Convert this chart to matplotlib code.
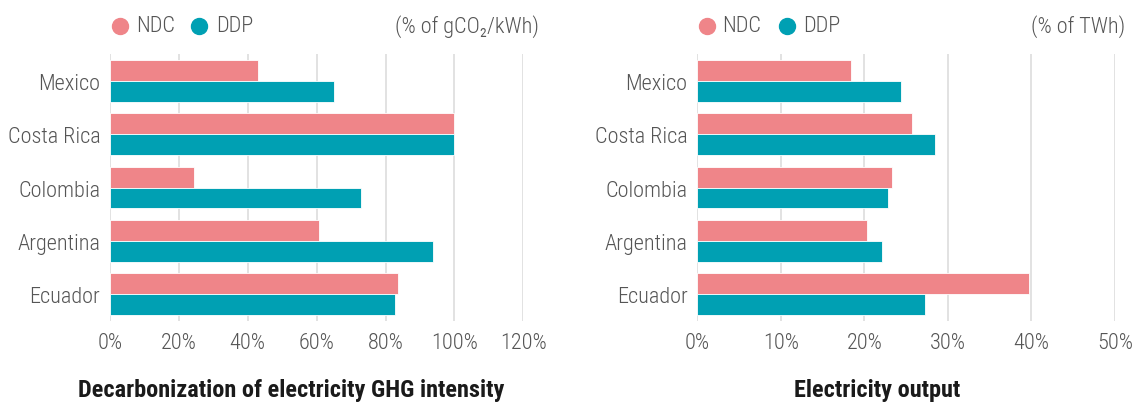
import matplotlib
matplotlib.use('Agg')
import matplotlib.pyplot as plt
import numpy as np

countries = ['Mexico', 'Costa Rica', 'Colombia', 'Argentina', 'Ecuador']

# Decarbonization of electricity GHG intensity (% of gCO2/kWh)
ghg_ndc = [43.0, 100.0, 24.4, 60.6, 83.6]
ghg_ddp = [65.1, 100.0, 72.8, 93.8, 82.9]

# Electricity output (% of TWh)
elec_ndc = [18.4, 25.7, 23.3, 20.3, 39.7]
elec_ddp = [24.4, 28.5, 22.8, 22.1, 27.2]

NDC_COLOR = '#EF8589'
DDP_COLOR = '#00A0B3'
TEXT_GREY = '#555555'
GRID_GREY = '#DADADA'

plt.rcParams['font.family'] = ['Roboto Condensed', 'DejaVu Sans']

fig = plt.figure(figsize=(11.41, 4.06), dpi=100)

panels = [
    dict(rect=[0.0964, 0.2069, 0.3622, 0.6576], ndc=ghg_ndc, ddp=ghg_ddp,
         xmax=120, step=20, unit='(% of gCO\u2082/kWh)', unit_x=1.038,
         leg=(0.024, 0.063, 0.215, 0.256),
         title='Decarbonization of electricity GHG intensity', title_x=291 / 1141),
    dict(rect=[0.6111, 0.2069, 0.3661, 0.6576], ndc=elec_ndc, ddp=elec_ddp,
         xmax=50, step=10, unit='(% of TWh)', unit_x=1.024,
         leg=(0.024, 0.059, 0.214, 0.253),
         title='Electricity output', title_x=877 / 1141),
]

y = np.arange(len(countries))
h = 0.39

for p in panels:
    ax = fig.add_axes(p['rect'])
    ax.barh(y - h / 2, p['ndc'], height=h, color=NDC_COLOR, edgecolor='white', linewidth=0.6, zorder=3)
    ax.barh(y + h / 2, p['ddp'], height=h, color=DDP_COLOR, edgecolor='white', linewidth=0.6, zorder=3)

    ax.set_xlim(0, p['xmax'])
    ax.set_ylim(len(countries) - 0.5, -0.5)
    ticks = np.arange(0, p['xmax'] + 1, p['step'])
    ax.set_xticks(ticks)
    ax.set_xticklabels([f'{t}%' for t in ticks])
    ax.set_yticks(y)
    ax.set_yticklabels(countries)
    ax.tick_params(length=0, labelsize=16, colors=TEXT_GREY)
    for lab in ax.get_xticklabels() + ax.get_yticklabels():
        lab.set_fontweight('light')
    ax.tick_params(axis='x', pad=8)
    ax.tick_params(axis='y', pad=7)
    ax.grid(axis='x', color=GRID_GREY, linewidth=1.1, zorder=0)
    for s in ax.spines.values():
        s.set_visible(False)

    # legend drawn by hand above the plot
    ly = 1.105
    c1, t1, c2, t2 = p['leg']
    for cx, tx, col, name in [(c1, t1, NDC_COLOR, 'NDC'), (c2, t2, DDP_COLOR, 'DDP')]:
        ax.plot([cx], [ly], marker='o', markersize=11.5, color=col, linestyle='',
                transform=ax.transAxes, clip_on=False)
        ax.text(tx, ly, name, transform=ax.transAxes, ha='left', va='center',
                fontsize=16, fontweight='light', color=TEXT_GREY)
    ax.text(p['unit_x'], ly, p['unit'], transform=ax.transAxes, ha='right', va='center',
            fontsize=16, fontweight='light', color=TEXT_GREY)

    fig.text(p['title_x'], 1 - 391 / 406, p['title'], ha='center', va='center',
             fontsize=17.5, fontweight='bold', color='#1a1a1a')

fig.savefig('out.png', dpi=100)
